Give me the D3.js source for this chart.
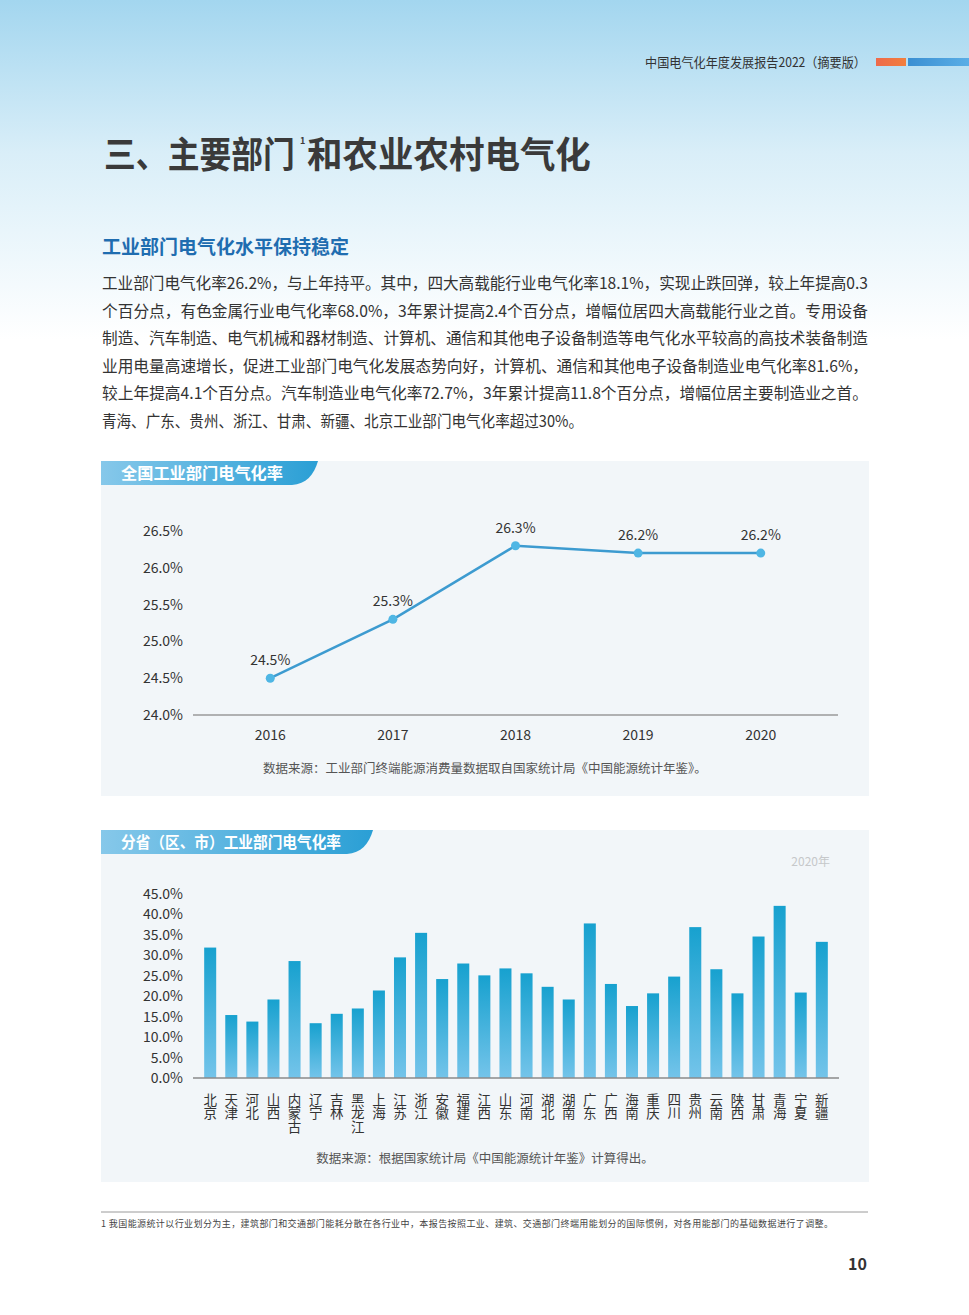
<!DOCTYPE html>
<html><head><meta charset="utf-8">
<script src="https://cdn.jsdelivr.net/npm/d3@7"></script>
<style>
html,body{margin:0;padding:0;background:#fff;}
svg{display:block;font-family:"Noto Sans CJK SC","Noto Sans",sans-serif;}
</style></head>
<body>
<svg id="c" width="969" height="1315"></svg>
<script>
// ---------- data ----------
const years = ["2016","2017","2018","2019","2020"];
const nationalRate = [24.5, 25.3, 26.3, 26.2, 26.2];
const nationalTicks = [24.0, 24.5, 25.0, 25.5, 26.0, 26.5];

const provinces = ["北京","天津","河北","山西","内蒙古","辽宁","吉林","黑龙江","上海","江苏","浙江","安徽","福建","江西","山东","河南","湖北","湖南","广东","广西","海南","重庆","四川","贵州","云南","陕西","甘肃","青海","宁夏","新疆"];
const provinceRate = [31.9,15.4,13.8,19.2,28.6,13.4,15.7,17.0,21.4,29.5,35.5,24.2,28.0,25.1,26.8,25.6,22.3,19.2,37.8,23.0,17.6,20.7,24.8,36.9,26.6,20.7,34.6,42.1,20.9,33.3];
const provinceTicks = [0,5,10,15,20,25,30,35,40,45];

const paragraph = [
 "工业部门电气化率26.2%，与上年持平。其中，四大高载能行业电气化率18.1%，实现止跌回弹，较上年提高0.3",
 "个百分点，有色金属行业电气化率68.0%，3年累计提高2.4个百分点，增幅位居四大高载能行业之首。专用设备",
 "制造、汽车制造、电气机械和器材制造、计算机、通信和其他电子设备制造等电气化水平较高的高技术装备制造",
 "业用电量高速增长，促进工业部门电气化发展态势向好，计算机、通信和其他电子设备制造业电气化率81.6%，",
 "较上年提高4.1个百分点。汽车制造业电气化率72.7%，3年累计提高11.8个百分点，增幅位居主要制造业之首。",
 "青海、广东、贵州、浙江、甘肃、新疆、北京工业部门电气化率超过30%。"
];
const paragraphWidths = [766,766,766,766,766,481];

// ---------- drawing ----------
const svg = d3.select("#c");
const defs = svg.append("defs");

const bgGrad = defs.append("linearGradient").attr("id","bg").attr("x1",0).attr("y1",0).attr("x2",0).attr("y2",1);
bgGrad.append("stop").attr("offset","0%").attr("stop-color","#a3d6ef");
bgGrad.append("stop").attr("offset","45%").attr("stop-color","#d9eef8");
bgGrad.append("stop").attr("offset","100%").attr("stop-color","#ffffff");
svg.append("rect").attr("x",0).attr("y",0).attr("width",969).attr("height",340).attr("fill","url(#bg)");

const orange = defs.append("linearGradient").attr("id","org");
orange.append("stop").attr("offset","0%").attr("stop-color","#ee6a4b");
orange.append("stop").attr("offset","100%").attr("stop-color","#f27f3d");
const blueBar = defs.append("linearGradient").attr("id","bb");
blueBar.append("stop").attr("offset","0%").attr("stop-color","#3b8fd2");
blueBar.append("stop").attr("offset","100%").attr("stop-color","#5aaee6");

const tabGrad = defs.append("linearGradient").attr("id","tab");
tabGrad.append("stop").attr("offset","0%").attr("stop-color","#86c8ea");
tabGrad.append("stop").attr("offset","100%").attr("stop-color","#2a9fd5");

const barGrad = defs.append("linearGradient").attr("id","bar").attr("x1",0).attr("y1",0).attr("x2",0).attr("y2",1);
barGrad.append("stop").attr("offset","0%").attr("stop-color","#17a1cf");
barGrad.append("stop").attr("offset","100%").attr("stop-color","#74c4ea");

// header
svg.append("text").attr("x",645).attr("y",67)
  .attr("font-size",13).attr("fill","#333").attr("textLength",221).attr("lengthAdjust","spacingAndGlyphs")
  .text("中国电气化年度发展报告2022（摘要版）");
svg.append("rect").attr("x",876).attr("y",58).attr("width",30).attr("height",8).attr("fill","url(#org)");
svg.append("rect").attr("x",908).attr("y",58).attr("width",61).attr("height",8).attr("fill","url(#bb)");

// title
svg.append("text").attr("transform","translate(104,168) scale(0.884,1)")
  .attr("font-size",36).attr("font-weight","bold").attr("fill","#3a3a3a").text("三、主要部门");
svg.append("text").attr("x",300).attr("y",144).attr("font-size",9).attr("font-weight","bold").attr("fill","#3a3a3a").text("1");
svg.append("text").attr("transform","translate(307,168) scale(0.986,1)")
  .attr("font-size",36).attr("font-weight","bold").attr("fill","#3a3a3a").text("和农业农村电气化");

// subtitle
svg.append("text").attr("x",102).attr("y",254).attr("font-size",19).attr("font-weight","bold")
  .attr("fill","#1f6db0").text("工业部门电气化水平保持稳定");

// paragraph
paragraph.forEach((t,i)=>{
  svg.append("text").attr("x",102).attr("y",289 + i*27.6).attr("font-size",16).attr("fill","#333")
    .attr("textLength",paragraphWidths[i]).attr("lengthAdjust","spacingAndGlyphs").text(t);
});

function tab(y, w, label, tw){
  svg.append("path")
    .attr("d",`M101,${y} H${101+w} C${101+w-4},${y+14} ${101+w-12},${y+23} ${101+w-26},${y+24} H101 Z`)
    .attr("fill","url(#tab)");
  svg.append("text").attr("x",121).attr("y",y+18).attr("font-size",16).attr("font-weight","bold")
    .attr("fill","#fff").attr("textLength",tw).attr("lengthAdjust","spacingAndGlyphs").text(label);
}

// ---------- chart 1 ----------
svg.append("rect").attr("x",101).attr("y",461).attr("width",768).attr("height",335).attr("fill","#f2f6f9");
tab(461, 217, "全国工业部门电气化率", 162);

const x1 = d3.scalePoint().domain(years).range([193,838]).padding(0.63);
const y1 = d3.scaleLinear().domain([24.0,26.5]).range([715,531]);

svg.append("line").attr("x1",193).attr("x2",838).attr("y1",y1(24.0)).attr("y2",y1(24.0))
  .attr("stroke","#9a9a9a").attr("stroke-width",1.5);

svg.append("g").selectAll("text").data(nationalTicks).join("text")
  .attr("x",183).attr("y",d=>y1(d)+5).attr("text-anchor","end").attr("font-size",14).attr("fill","#333")
  .text(d=>d.toFixed(1)+"%");
svg.append("g").selectAll("text").data(years).join("text")
  .attr("x",d=>x1(d)).attr("y",740).attr("text-anchor","middle").attr("font-size",14).attr("fill","#333").text(d=>d);

const line = d3.line().x((d,i)=>x1(years[i])).y(d=>y1(d));
svg.append("path").datum(nationalRate).attr("d",line).attr("fill","none").attr("stroke","#3d9bd0").attr("stroke-width",2.5);
svg.append("g").selectAll("circle").data(nationalRate).join("circle")
  .attr("cx",(d,i)=>x1(years[i])).attr("cy",d=>y1(d)).attr("r",4.5).attr("fill","#4fb6e4");
svg.append("g").selectAll("text").data(nationalRate).join("text")
  .attr("x",(d,i)=>x1(years[i])).attr("y",d=>y1(d)-13).attr("text-anchor","middle").attr("font-size",14).attr("fill","#333")
  .text(d=>d.toFixed(1)+"%");

svg.append("text").attr("x",485).attr("y",773).attr("text-anchor","middle").attr("font-size",12.5).attr("fill","#555")
  .text("数据来源：工业部门终端能源消费量数据取自国家统计局《中国能源统计年鉴》。");

// ---------- chart 2 ----------
svg.append("rect").attr("x",101).attr("y",830).attr("width",768).attr("height",352).attr("fill","#f2f6f9");
tab(830, 272, "分省（区、市）工业部门电气化率", 220);
svg.append("text").attr("x",830).attr("y",866).attr("text-anchor","end").attr("font-size",12).attr("fill","#c6c8ca").text("2020年");

const x2 = d3.scaleBand().domain(provinces).range([193,839]).paddingInner(0.43).paddingOuter(0.53);
const y2 = d3.scaleLinear().domain([0,45]).range([1078,894]);

svg.append("g").selectAll("rect").data(provinceRate).join("rect")
  .attr("x",(d,i)=>x2(provinces[i])).attr("width",x2.bandwidth())
  .attr("y",d=>y2(d)).attr("height",d=>y2(0)-y2(d)).attr("fill","url(#bar)");

svg.append("line").attr("x1",193).attr("x2",839).attr("y1",y2(0)).attr("y2",y2(0))
  .attr("stroke","#8a8a8a").attr("stroke-width",1.5);

svg.append("g").selectAll("text").data(provinceTicks).join("text")
  .attr("x",183).attr("y",d=>y2(d)+5).attr("text-anchor","end").attr("font-size",14).attr("fill","#333")
  .text(d=>d.toFixed(1)+"%");

svg.append("g").selectAll("text").data(provinces).join("text")
  .attr("x",d=>x2(d) + x2.bandwidth()/2).attr("y",1093)
  .attr("writing-mode","vertical-rl").attr("text-anchor","start")
  .attr("font-size",13.5).attr("fill","#333").text(d=>d);

svg.append("text").attr("x",485).attr("y",1163).attr("text-anchor","middle").attr("font-size",12.5).attr("fill","#555")
  .text("数据来源：根据国家统计局《中国能源统计年鉴》计算得出。");

// footnote
svg.append("line").attr("x1",101).attr("x2",868).attr("y1",1212).attr("y2",1212).attr("stroke","#9a9a9a").attr("stroke-width",1);
svg.append("text").attr("x",101).attr("y",1227).attr("font-size",9).attr("fill","#444")
  .attr("textLength",732).attr("lengthAdjust","spacing")
  .text("1  我国能源统计以行业划分为主，建筑部门和交通部门能耗分散在各行业中，本报告按照工业、建筑、交通部门终端用能划分的国际惯例，对各用能部门的基础数据进行了调整。");

svg.append("text").attr("x",867).attr("y",1270).attr("text-anchor","end").attr("font-size",16).attr("font-weight","bold")
  .attr("fill","#333").text("10");
</script>
</body></html>
